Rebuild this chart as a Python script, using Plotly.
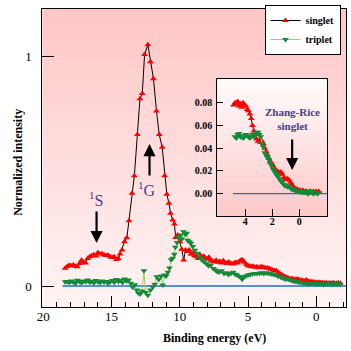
import plotly.graph_objects as go

# ---------------- main panel data ----------------
singlet_x = [18.40, 18.25, 18.10, 17.95, 17.80, 17.65, 17.50, 17.35, 17.20, 17.05,
             16.90, 16.75, 16.60, 16.45, 16.30, 16.15, 16.00, 15.85, 15.70, 15.55,
             15.40, 15.25, 15.10, 14.95, 14.80, 14.65, 14.50, 14.38, 14.23, 14.05,
             13.88, 13.72, 13.50, 13.33, 13.11, 12.92, 12.75, 12.58, 12.34, 12.15,
             11.93, 11.71, 11.51, 11.29, 11.11, 10.95, 10.80, 10.68, 10.52, 10.40,
             10.30, 10.16, 10.00, 9.86, 9.72, 9.58, 9.45, 9.31, 9.18, 9.05,
             8.92, 8.78, 8.65, 8.52, 8.38, 8.25, 8.12, 8.00, 7.87, 7.74,
             7.60, 7.47, 7.34, 7.21, 7.08, 6.95, 6.82, 6.69, 6.56, 6.43,
             6.30, 6.17, 6.04, 5.91, 5.78, 5.65, 5.52, 5.40, 5.27, 5.14,
             5.01, 4.88, 4.75, 4.62, 4.49, 4.36, 4.23, 4.10, 3.97, 3.84,
             3.71, 3.58, 3.45, 3.32, 3.19, 3.06, 2.93, 2.80, 2.67, 2.54,
             2.41, 2.28, 2.15, 2.02, 1.89, 1.76, 1.63, 1.50, 1.37, 1.24,
             1.11, 0.98, 0.85, 0.72, 0.59, 0.46, 0.33, 0.20, 0.07, -0.06,
             -0.19, -0.32, -0.45, -0.58, -0.71, -0.84, -0.97, -1.10, -1.23, -1.36,
             -1.49, -1.62, -1.75]
singlet_y = [0.077, 0.085, 0.090, 0.088, 0.092, 0.086, 0.084, 0.098, 0.112, 0.104,
             0.100, 0.120, 0.128, 0.132, 0.136, 0.131, 0.145, 0.139, 0.141, 0.135,
             0.133, 0.134, 0.128, 0.124, 0.127, 0.116, 0.120, 0.140, 0.157, 0.193,
             0.210, 0.285, 0.404, 0.481, 0.661, 0.817, 0.840, 1.010, 1.052, 0.978,
             0.904, 0.763, 0.661, 0.605, 0.481, 0.400, 0.361, 0.317, 0.288, 0.270,
             0.212, 0.222, 0.193, 0.160, 0.113, 0.157, 0.150, 0.157, 0.138, 0.143,
             0.132, 0.128, 0.120, 0.135, 0.126, 0.130, 0.122, 0.118, 0.125, 0.112,
             0.108, 0.106, 0.112, 0.104, 0.108, 0.100, 0.110, 0.102, 0.098, 0.105,
             0.100, 0.096, 0.099, 0.104, 0.100, 0.108, 0.112, 0.113, 0.104, 0.095,
             0.088, 0.087, 0.084, 0.086, 0.082, 0.084, 0.080, 0.083, 0.084, 0.081,
             0.078, 0.079, 0.076, 0.073, 0.070, 0.068, 0.066, 0.060, 0.054, 0.049,
             0.044, 0.040, 0.037, 0.034, 0.031, 0.033, 0.029, 0.028, 0.030, 0.026,
             0.025, 0.024, 0.022, 0.026, 0.021, 0.019, 0.018, 0.017, 0.016, 0.015,
             0.016, 0.014, 0.015, 0.013, 0.014, 0.012, 0.013, 0.012, 0.014, 0.011,
             0.012, 0.013, 0.012]

triplet_x = [18.40, 18.25, 18.10, 17.95, 17.80, 17.65, 17.50, 17.35, 17.20, 17.05,
             16.90, 16.75, 16.60, 16.45, 16.30, 16.15, 16.00, 15.85, 15.70, 15.55,
             15.40, 15.25, 15.10, 14.95, 14.80, 14.65, 14.50, 14.35, 14.20, 14.05,
             13.90, 13.75, 13.60, 13.45, 13.30, 13.15, 13.05, 12.90, 12.77, 12.63,
             12.50, 12.34, 12.15, 11.98, 11.84, 11.69, 11.55, 11.37, 11.25, 11.12,
             11.00, 10.88, 10.76, 10.64, 10.52, 10.40, 10.33, 10.20, 10.10, 9.96,
             9.85, 9.72, 9.60, 9.50, 9.43, 9.30, 9.19, 9.05, 8.90, 8.71,
             8.55, 8.40, 8.22, 8.05, 7.90, 7.73, 7.55, 7.40, 7.25, 7.10,
             6.95, 6.76, 6.60, 6.45, 6.27, 6.10, 5.95, 5.80, 5.65, 5.50,
             5.43, 5.30, 5.15, 5.00, 4.85, 4.70, 4.50, 4.34, 4.15, 4.00,
             3.85, 3.70, 3.55, 3.40, 3.25, 3.10, 2.95, 2.80, 2.60, 2.45,
             2.30, 2.15, 2.00, 1.85, 1.70, 1.55, 1.40, 1.25, 1.10, 0.95,
             0.80, 0.65, 0.50, 0.35, 0.20, 0.05, -0.10, -0.25, -0.40, -0.55,
             -0.70, -0.85, -1.00, -1.15, -1.30, -1.45, -1.60, -1.75]
triplet_y = [0.018, 0.020, 0.015, 0.022, 0.017, 0.012, 0.025, 0.020, 0.014, 0.022,
             0.018, 0.026, 0.016, 0.021, 0.013, 0.024, 0.019, 0.015, 0.022, 0.017,
             0.020, 0.012, 0.018, 0.024, 0.016, 0.028, 0.020, 0.025, 0.015, 0.030,
             0.022, 0.026, 0.012, -0.006, 0.005, -0.018, -0.030, -0.035, -0.022, 0.067,
             -0.028, -0.040, -0.018, -0.004, 0.008, 0.040, 0.028, 0.044, 0.004, 0.048,
             0.044, 0.060, 0.078, 0.115, 0.121, 0.138, 0.169, 0.190, 0.212, 0.222,
             0.205, 0.237, 0.226, 0.230, 0.200, 0.193, 0.186, 0.172, 0.156, 0.143,
             0.126, 0.115, 0.106, 0.097, 0.088, 0.092, 0.076, 0.070, 0.062, 0.061,
             0.066, 0.055, 0.058, 0.050, 0.055, 0.060, 0.051, 0.048, 0.041, 0.036,
             0.029, 0.040, 0.044, 0.048, 0.050, 0.052, 0.055, 0.054, 0.056, 0.058,
             0.055, 0.058, 0.056, 0.054, 0.052, 0.050, 0.048, 0.043, 0.038, 0.035,
             0.031, 0.030, 0.028, 0.025, 0.022, 0.020, 0.018, 0.016, 0.015, 0.013,
             0.012, 0.011, 0.010, 0.012, 0.009, 0.010, 0.008, 0.010, 0.009, 0.007,
             0.009, 0.008, 0.010, 0.007, 0.009, 0.008, 0.010, 0.008]

baseline_main_x = [18.6, -2.2]
baseline_main_y = [0, 0]

# ---------------- inset data ----------------
inset_singlet_x = [4.85, 4.75, 4.65, 4.55, 4.45, 4.35, 4.25, 4.15, 4.05, 3.95,
                   3.85, 3.75, 3.65, 3.55, 3.45, 3.35, 3.25, 3.15, 3.05, 2.95,
                   2.85, 2.75, 2.65, 2.55, 2.45, 2.35, 2.25, 2.15, 2.05, 1.95,
                   1.85, 1.75, 1.65, 1.55, 1.45, 1.35, 1.25, 1.15, 1.05, 0.95,
                   0.85, 0.75, 0.65, 0.55, 0.45, 0.35, 0.25, 0.15, 0.05, -0.05,
                   -0.15, -0.25, -0.35, -0.45, -0.55, -0.65, -0.75, -0.85, -0.95, -1.05,
                   -1.15, -1.25, -1.35, -1.45]
inset_singlet_y = [0.078, 0.080, 0.079, 0.081, 0.077, 0.079, 0.076, 0.080, 0.078, 0.077,
                   0.074, 0.073, 0.070, 0.066, 0.060, 0.055, 0.052, 0.048, 0.046, 0.047,
                   0.045, 0.046, 0.044, 0.040, 0.037, 0.034, 0.031, 0.028, 0.027, 0.025,
                   0.022, 0.021, 0.020, 0.019, 0.018, 0.019, 0.017, 0.014, 0.013, 0.013,
                   0.013, 0.012, 0.010, 0.008, 0.006, 0.005, 0.004, 0.004, 0.003, 0.003,
                   0.002, 0.003, 0.002, 0.002, 0.002, 0.001, 0.002, 0.002, 0.001, 0.002,
                   0.001, 0.002, 0.001, 0.002]

inset_triplet_x = [4.75, 4.65, 4.55, 4.45, 4.35, 4.25, 4.15, 4.05, 3.95, 3.85,
                   3.75, 3.65, 3.55, 3.45, 3.35, 3.25, 3.15, 3.05, 2.95, 2.85,
                   2.75, 2.65, 2.55, 2.45, 2.35, 2.25, 2.15, 2.05, 1.95, 1.85,
                   1.75, 1.65, 1.55, 1.45, 1.35, 1.25, 1.15, 1.05, 0.95, 0.85,
                   0.75, 0.65, 0.55, 0.45, 0.35, 0.25, 0.15, 0.05, -0.05, -0.15,
                   -0.25, -0.35, -0.45, -0.55, -0.65, -0.75, -0.85, -0.95, -1.05, -1.15,
                   -1.25, -1.35, -1.45]
inset_triplet_y = [0.050, 0.049, 0.052, 0.053, 0.050, 0.051, 0.049, 0.050, 0.052, 0.051,
                   0.050, 0.049, 0.050, 0.052, 0.050, 0.054, 0.053, 0.054, 0.052, 0.050,
                   0.044, 0.041, 0.036, 0.034, 0.032, 0.030, 0.027, 0.025, 0.022, 0.020,
                   0.018, 0.016, 0.015, 0.013, 0.011, 0.010, 0.008, 0.007, 0.007, 0.006,
                   0.006, 0.005, 0.004, 0.004, 0.003, 0.003, 0.002, 0.002, 0.002, 0.001,
                   0.002, 0.001, 0.001, 0.002, 0.000, 0.001, 0.001, 0.002, 0.000, 0.001,
                   0.001, 0.000, 0.001]

baseline_inset_x = [4.9, -2.09]
baseline_inset_y = [0, 0]

assert len(singlet_x) == len(singlet_y), (len(singlet_x), len(singlet_y))
assert len(triplet_x) == len(triplet_y), (len(triplet_x), len(triplet_y))
assert len(inset_singlet_x) == len(inset_singlet_y)
assert len(inset_triplet_x) == len(inset_triplet_y)

# ---------------- styles ----------------
W = H = 351
SERIF = "Liberation Serif"
RED = "#ff0000"
DGREEN = "#138a3a"
LGREEN = "#96d35a"
BLUE = "#1e6ec8"
TXTBLUE = "#45408c"
MSIZE = 6

main_x0, main_x1, main_y0, main_y1 = 37, 346, 9, 307  # pixel frame
ins_x0, ins_x1, ins_y0, ins_y1 = 215, 327, 79, 216


def px2paper_x(p):
    return p / W


def px2paper_y(p):
    return 1 - p / H


fig = go.Figure()

fig.add_trace(go.Scatter(x=baseline_main_x, y=baseline_main_y, mode="lines",
                         line=dict(color=BLUE, width=1.3), showlegend=False,
                         hoverinfo="skip"))
fig.add_trace(go.Scatter(x=singlet_x, y=singlet_y, mode="lines+markers", name="singlet",
                         line=dict(color="black", width=1),
                         marker=dict(symbol="triangle-up", size=MSIZE, color=RED)))
fig.add_trace(go.Scatter(x=triplet_x, y=triplet_y, mode="lines+markers", name="triplet",
                         line=dict(color=LGREEN, width=1),
                         marker=dict(symbol="triangle-down", size=MSIZE, color=DGREEN)))

fig.add_trace(go.Scatter(x=baseline_inset_x, y=baseline_inset_y, mode="lines",
                         line=dict(color=BLUE, width=1.3), showlegend=False,
                         xaxis="x2", yaxis="y2", hoverinfo="skip"))
fig.add_trace(go.Scatter(x=inset_singlet_x, y=inset_singlet_y, mode="lines+markers",
                         line=dict(color="black", width=1),
                         marker=dict(symbol="triangle-up", size=MSIZE, color=RED),
                         showlegend=False, xaxis="x2", yaxis="y2"))
fig.add_trace(go.Scatter(x=inset_triplet_x, y=inset_triplet_y, mode="lines+markers",
                         line=dict(color=LGREEN, width=1),
                         marker=dict(symbol="triangle-down", size=MSIZE, color=DGREEN),
                         showlegend=False, xaxis="x2", yaxis="y2"))

# gradient backgrounds (layout styling)
shapes = []
N = 40


def grad(x0, x1, y0, y1, c_top, c_bot):
    h = (y1 - y0) / N
    for i in range(N):
        t = (i + 0.5) / N
        c = tuple(round(c_top[k] + (c_bot[k] - c_top[k]) * t) for k in range(3))
        shapes.append(dict(type="rect", xref="paper", yref="paper", layer="below",
                           x0=px2paper_x(x0), x1=px2paper_x(x1),
                           y0=px2paper_y(y0 + i * h), y1=px2paper_y(y0 + (i + 1) * h + 0.6),
                           line=dict(width=0), fillcolor="rgb(%d,%d,%d)" % c))


grad(main_x0, main_x1, main_y0, main_y1, (255, 198, 198), (255, 244, 244))
grad(ins_x0, ins_x1, ins_y0, ins_y1, (255, 252, 252), (252, 200, 200))

axis_common = dict(showline=True, mirror=True, linecolor="black", linewidth=1,
                   showgrid=False, zeroline=False, tickcolor="black", ticks="inside")


def label(text, x, y, size, color="black", weight="normal", angle=0):
    return dict(text=text, xref="paper", yref="paper", x=px2paper_x(x), y=px2paper_y(y),
                xanchor="center", yanchor="middle", showarrow=False, textangle=angle,
                font=dict(family=SERIF, size=size, color=color, weight=weight))


fig.update_layout(
    width=W, height=H, autosize=False,
    margin=dict(l=0, r=0, t=0, b=0),
    paper_bgcolor="white", plot_bgcolor="rgba(0,0,0,0)",
    shapes=shapes,
    xaxis=dict(axis_common, domain=[px2paper_x(main_x0), px2paper_x(main_x1)],
               range=[20.07, -2.18], tickmode="linear", tick0=0, dtick=5, ticklen=11,
               minor=dict(dtick=1, tick0=0, ticklen=5, ticks="inside", tickcolor="black",
                          showgrid=False),
               tickfont=dict(family=SERIF, size=13, color="black"), ticklabelstandoff=-3),
    yaxis=dict(axis_common, domain=[px2paper_y(main_y1), px2paper_y(main_y0)],
               range=[-0.0916, 1.208], tickvals=[0, 1], ticktext=["0", "1"], ticklen=12,
               tickfont=dict(family=SERIF, size=13, color="black"), ticklabelstandoff=7),
    xaxis2=dict(axis_common, domain=[px2paper_x(ins_x0), px2paper_x(ins_x1)],
                anchor="y2", range=[6.06, -2.09], tickvals=[4, 2, 0], ticklen=7,
                tickfont=dict(family=SERIF, size=10, color="black", weight="bold"),
                ticklabelstandoff=-4),
    yaxis2=dict(axis_common, domain=[px2paper_y(ins_y1), px2paper_y(ins_y0)],
                anchor="x2", range=[-0.0196, 0.1008], tickvals=[0, 0.02, 0.04, 0.06, 0.08],
                tickformat=".2f", ticklen=6,
                tickfont=dict(family=SERIF, size=10, color="black", weight="bold"),
                ticklabelstandoff=2),
    legend=dict(x=px2paper_x(263), y=px2paper_y(5), xanchor="left", yanchor="top",
                bgcolor="white", bordercolor="black", borderwidth=1,
                font=dict(family=SERIF, size=10, color="black", weight="bold"),
                itemwidth=30, tracegroupgap=0),
    annotations=[
        label("Binding energy (eV)", 212, 338, 12, weight="bold"),
        label("Normalized intensity", 12, 162, 12, weight="bold", angle=-90),
        label("<sup>1</sup>S", 92, 199, 16, color=TXTBLUE),
        label("<sup>1</sup>G", 143, 189, 16, color=TXTBLUE),
        label("Zhang-Rice<br>singlet", 291, 119, 11, color=TXTBLUE, weight="bold"),
        dict(text="", x=16.1, y=0.1875, xref="x", yref="y", showarrow=True,
             ax=0, ay=-33, arrowhead=2, arrowsize=1.1, arrowwidth=2.2, arrowcolor="black"),
        dict(text="", x=12.22, y=0.619, xref="x", yref="y", showarrow=True,
             ax=0, ay=33, arrowhead=2, arrowsize=1.1, arrowwidth=2.2, arrowcolor="black"),
        dict(text="", x=0.52, y=0.0208, xref="x2", yref="y2", showarrow=True,
             ax=0, ay=-32, arrowhead=2, arrowsize=1.1, arrowwidth=2.2, arrowcolor="black"),
    ],
)

fig.write_html("out.html")
